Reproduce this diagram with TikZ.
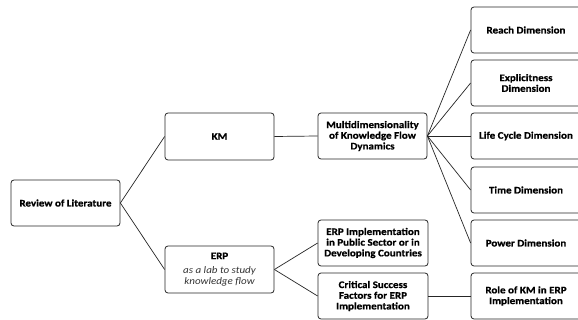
\documentclass[tikz,border=0pt]{standalone}
\usepackage{fontspec}
\setmainfont{Carlito}[FakeStretch=1.1, BoldFeatures={FakeBold=0.8}]
\begin{document}
\begin{tikzpicture}[x=1pt,y=-1pt,
  box/.style={draw=black!85, line width=0.8pt, rounded corners=3pt, fill=white,
    minimum width=109pt, minimum height=46pt, align=center, inner sep=1pt,
    font=\fontsize{10}{10.7}\selectfont\bfseries, text=black},
  wbox/.style={box, minimum width=110pt},
  note/.style={font=\fontsize{10}{10.7}\selectfont\mdseries\itshape, text=black!80},
  link/.style={draw=black!85, line width=0.7pt}]
\clip (0,0) rectangle (578,320);
\fill[white] (0,0) rectangle (578,320);
\node[box] (rev) at (65.5,203) {Review of Literature};
\node[box, minimum height=47pt] (km) at (219.5,136.5) {KM};
\node[box, minimum height=47pt] (erp) at (219.5,269.5) {ERP\\[4pt]{\mdseries\itshape\color{black!80}as a lab to study}\\{\mdseries\itshape\color{black!80}knowledge flow}};
\node[box] (md) at (372.5,136) {Multidimensionality\\of Knowledge Flow\\Dynamics};
\node[wbox] (reach) at (526,30) {Reach Dimension};
\node[wbox] (expl) at (526,83) {Explicitness\\Dimension};
\node[wbox] (life) at (526,136) {Life Cycle Dimension};
\node[wbox] (time) at (526,190) {Time Dimension};
\node[wbox] (power) at (526,243) {Power Dimension};
\node[wbox] (ei) at (373,243) {ERP Implementation\\in Public Sector or in\\Developing Countries};
\node[wbox] (csf) at (373,296) {Critical Success\\Factors for ERP\\Implementation};
\node[wbox] (role) at (526,296) {Role of KM in ERP\\Implementation};
\draw[link] (rev.east) -- (km.west);
\draw[link] (rev.east) -- (erp.west);
\draw[link] (km.east) -- (md.west);
\foreach \t in {reach,expl,life,time,power}
  \draw[link] (md.east) -- (\t.west);
\draw[link] (erp.east) -- (ei.west);
\draw[link] (erp.east) -- (csf.west);
\draw[link] (csf.east) -- (role.west);
\end{tikzpicture}
\end{document}
